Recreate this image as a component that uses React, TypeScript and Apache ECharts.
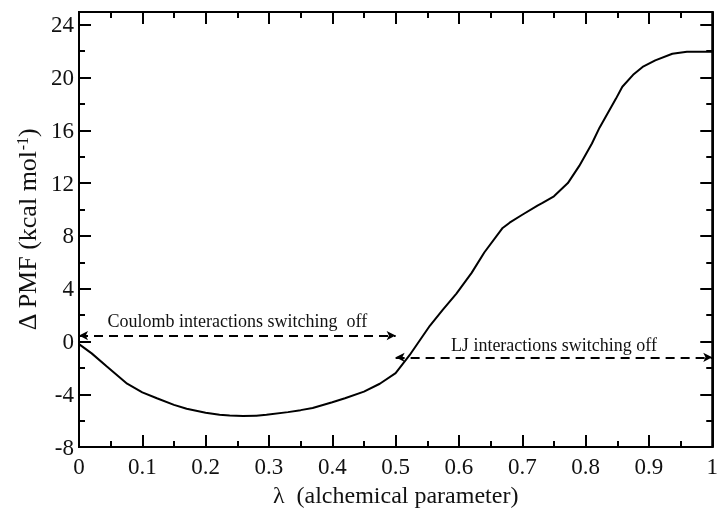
import React, { useEffect, useRef } from "react";
import * as echarts from "echarts";

const lambdaValues = [
  0, 0.02, 0.044, 0.076, 0.1, 0.123, 0.15, 0.17, 0.2, 0.222, 0.238, 0.259, 0.28, 0.296,
  0.33, 0.35, 0.369, 0.4, 0.42, 0.45, 0.475, 0.5, 0.522, 0.554, 0.574, 0.596, 0.62, 0.64,
  0.669, 0.68, 0.7, 0.724, 0.732, 0.75, 0.772, 0.79, 0.81, 0.822, 0.848, 0.858, 0.875,
  0.89, 0.91, 0.937, 0.96, 1.0,
];
const pmfValues = [
  -0.2, -0.9, -1.9, -3.2, -3.85, -4.3, -4.8, -5.1, -5.4, -5.55, -5.6, -5.65, -5.62, -5.55,
  -5.35, -5.2, -5.04, -4.6, -4.3, -3.8, -3.2, -2.4, -1.04, 1.19, 2.37, 3.63, 5.2, 6.74,
  8.6, 9.0, 9.6, 10.3, 10.5, 11.0, 12.0, 13.3, 15.0, 16.2, 18.4, 19.3, 20.2,
  20.8, 21.3, 21.8, 21.95, 21.95,
];

const coulombArrow = { from: 0, to: 0.5, y: 0.45, text: "Coulomb interactions switching  off" };
const ljArrow = { from: 0.5, to: 1.0, y: -1.2, text: "LJ interactions switching off" };

const xRange = [0, 1];
const yRange = [-8, 24.96];

const FONT = "Liberation Serif";

export default function App() {
  const ref = useRef<HTMLDivElement>(null);
  useEffect(() => {
    if (!ref.current) return;
    const chart = echarts.init(ref.current, null, { renderer: "svg" });
    const xData = lambdaValues.map((l, i) => [l, pmfValues[i]]);

    const tick = () => ({ show: true, inside: true, length: 12, lineStyle: { color: "#000", width: 2 } });
    const minor = () => ({ show: true, splitNumber: 2, length: 6, lineStyle: { color: "#000", width: 2 } });
    const axLine = () => ({ show: true, onZero: false, lineStyle: { color: "#000", width: 2 } });

    const arrowLabel = (text: string, dist: number) => ({
      show: true,
      formatter: text,
      position: "insideMiddleTop",
      distance: dist,
      fontFamily: FONT,
      fontSize: 18,
      color: "#111",
    });

    chart.setOption({
      animation: false,
      grid: {
        left: 79,
        right: 8,
        top: 12,
        bottom: 55,
        show: true,
        borderColor: "#000",
        borderWidth: 2,
      },
      xAxis: [
        {
          type: "value",
          position: "bottom",
          min: xRange[0],
          max: xRange[1],
          interval: 0.1,
          axisLine: axLine(),
          axisTick: tick(),
          minorTick: minor(),
          splitLine: { show: false },
          axisLabel: { fontFamily: FONT, fontSize: 23, color: "#111", margin: 8 },
          name: "λ  (alchemical parameter)",
          nameLocation: "middle",
          nameGap: 34,
          nameTextStyle: { fontFamily: FONT, fontSize: 24, color: "#111" },
        },
        {
          type: "value",
          position: "top",
          min: xRange[0],
          max: xRange[1],
          interval: 0.1,
          axisLine: axLine(),
          axisTick: tick(),
          minorTick: minor(),
          splitLine: { show: false },
          axisLabel: { show: false },
        },
      ],
      yAxis: [
        {
          type: "value",
          position: "left",
          min: yRange[0],
          max: yRange[1],
          interval: 4,
          axisLine: axLine(),
          axisTick: tick(),
          minorTick: minor(),
          splitLine: { show: false },
          axisLabel: { fontFamily: FONT, fontSize: 23, color: "#111", margin: 5 },
          name: "{a|Δ PMF (kcal mol}{s|-1}{a|)}",
          nameLocation: "middle",
          nameGap: 37,
          nameTextStyle: {
            color: "#111",
            rich: {
              a: { fontFamily: FONT, fontSize: 26, color: "#111" },
              s: { fontFamily: FONT, fontSize: 16, color: "#111", verticalAlign: "top" },
            },
          },
        },
        {
          type: "value",
          position: "right",
          min: yRange[0],
          max: yRange[1],
          interval: 4,
          axisLine: axLine(),
          axisTick: tick(),
          minorTick: minor(),
          splitLine: { show: false },
          axisLabel: { show: false },
        },
      ],
      series: [
        {
          type: "line",
          xAxisIndex: 1,
          yAxisIndex: 1,
          data: [],
          symbol: "none",
        },
        {
          type: "line",
          xAxisIndex: 0,
          yAxisIndex: 0,
          data: xData,
          symbol: "none",
          lineStyle: { color: "#000", width: 2 },
          markLine: {
            silent: true,
            symbol: ["arrow", "arrow"],
            symbolSize: [7, 9],
            lineStyle: { color: "#000", width: 2, type: [9, 6] },
            data: [
              [
                { coord: [coulombArrow.from, coulombArrow.y], label: arrowLabel(coulombArrow.text, 6) },
                { coord: [coulombArrow.to, coulombArrow.y] },
              ],
              [
                { coord: [ljArrow.from, ljArrow.y], label: arrowLabel(ljArrow.text, 3) },
                { coord: [ljArrow.to, ljArrow.y] },
              ],
            ],
          },
        },
      ],
    });
    return () => chart.dispose();
  }, []);
  return <div ref={ref} style={{ position: "fixed", left: 0, top: 0, width: 721, height: 512 }} />;
}
